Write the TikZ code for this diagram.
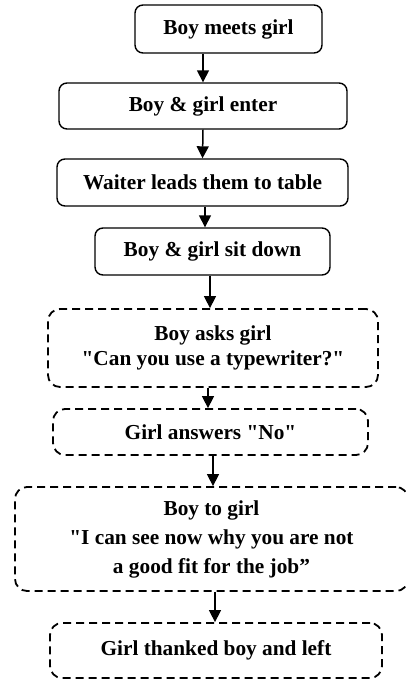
\documentclass[tikz,border=0pt]{standalone}
\usepackage{fontspec}
\setmainfont{Liberation Serif}[Ligatures=TeXOff]
\usetikzlibrary{arrows.meta}
\begin{document}
\begin{tikzpicture}[x=1pt,y=-1pt,
  solidbox/.style={draw, line width=1.4pt, rounded corners=8pt, align=center,
    font=\fontsize{21.3}{25}\selectfont\bfseries, inner sep=0pt},
  dashbox/.style={solidbox, dash pattern=on 8pt off 5pt, line width=1.8pt, rounded corners=12pt},
  arr/.style={-{Triangle[width=12pt,length=12pt]}, line width=1.5pt}]
\useasboundingbox (0,0) rectangle (406,681);
\node[solidbox, minimum width=187pt, minimum height=48pt] (b1) at (228.5,29) {Boy meets girl};
\node[solidbox, minimum width=288pt, minimum height=46pt] (b2) at (203,106) {Boy \& girl enter};
\node[solidbox, minimum width=291pt, minimum height=47pt] (b3) at (202.5,182.5) {Waiter leads them to table};
\node[solidbox, minimum width=235pt, minimum height=47pt] (b4) at (212.5,251.5) {Boy \& girl sit down};
\node[dashbox, minimum width=330pt, minimum height=78pt,
  font=\fontsize{21.3}{24.6}\selectfont\bfseries] (b5) at (213,348) {Boy asks girl\\"Can you use a typewriter?"};
\node[dashbox, minimum width=315pt, minimum height=46pt] (b6) at (210.5,432) {Girl answers "No"};
\node[dashbox, minimum width=393pt, minimum height=104pt,
  font=\fontsize{21.3}{29}\selectfont\bfseries] (b7) at (211.5,539) {Boy to girl\\"I can see now why you are not\\a good fit for the job”};
\node[dashbox, minimum width=332pt, minimum height=55pt] (b8) at (216,650.5) {Girl thanked boy and left};
\draw[arr] ([xshift=-25.5pt]b1.south) -- (b2.north);
\draw[arr] (b2.south) -- (b3.north);
\draw[arr] ([xshift=2.5pt]b3.south) -- ([xshift=-7.5pt]b4.north);
\draw[arr] ([xshift=-2.5pt]b4.south) -- ([xshift=-3pt]b5.north);
\draw[arr] ([xshift=-5pt]b5.south) -- ([xshift=-2.5pt]b6.north);
\draw[arr] ([xshift=2.5pt]b6.south) -- ([xshift=1.5pt]b7.north);
\draw[arr] ([xshift=3.5pt]b7.south) -- ([xshift=-1pt]b8.north);
\end{tikzpicture}
\end{document}
